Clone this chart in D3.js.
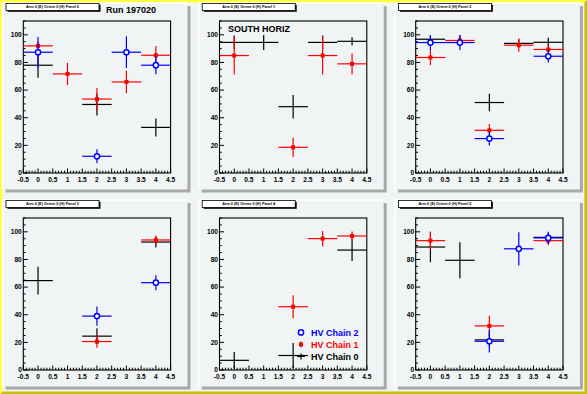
<!DOCTYPE html>
<html>
<head>
<meta charset="utf-8">
<script src="https://cdn.jsdelivr.net/npm/d3@7"></script>
<style>
  body { margin: 0; background: #f0f4f4; }
  svg { display: block; }
  text { font-family: "Liberation Sans", Arial, sans-serif; font-weight: bold; }
</style>
</head>
<body>
<svg id="chart"></svg>
<script>
// panel titles, bins and the three HV chains (null = no entry)
const panelTitles = [
  "Arm 0 (E) Orient 0 (H) Panel 0", "Arm 0 (E) Orient 0 (H) Panel 1", "Arm 0 (E) Orient 0 (H) Panel 2",
  "Arm 0 (E) Orient 0 (H) Panel 3", "Arm 0 (E) Orient 0 (H) Panel 4", "Arm 0 (E) Orient 0 (H) Panel 5"
];
const xBins = [0, 1, 2, 3, 4];
const xTickLabels = ["-0.5", "0", "0.5", "1", "1.5", "2", "2.5", "3", "3.5", "4", "4.5"];
const yTickLabels = ["0", "20", "40", "60", "80", "100"];

const chain0Y = [
  [78, null, 49.6, null, 33],
  [94.5, 94.5, 48, 94.5, 95.3],
  [96.8, null, 51, 93.8, 94.6],
  [64.7, null, 24.5, null, 92.6],
  [7, null, 10.5, null, 86.8],
  [89, 79.4, 21.8, null, 96]
];
const chain0Err = [
  [9, null, 8, null, 6.5],
  [5, 5.4, 8.5, 5, 3],
  [3, null, 6.3, 3, 3.2],
  [10, null, 5.7, null, 4],
  [6, null, 9, null, 8],
  [11, 13, 5, null, 3]
];
const chain1Y = [
  [92, 71.7, 53.5, 65.9, 85.2],
  [85, null, 18.6, 85, 79],
  [83.6, 95.9, 30.9, 92.5, 89.4],
  [null, null, 20.6, null, 94.1],
  [null, null, 45.8, 95.1, 97],
  [93.6, null, 31.9, null, 93.6]
];
const chain1Err = [
  [3, 8, 8, 8.2, 6.7],
  [13.7, null, 7, 13.7, 7.5],
  [5.5, 4, 4.5, 4.8, 3],
  [null, null, 4.5, null, 3],
  [null, null, 8.3, 5.5, 3.3],
  [6.5, null, 7.3, null, 3.3]
];
const chain2Y = [
  [87.4, null, 12.1, 87.4, 78],
  [null, null, null, null, null],
  [94.4, 94.4, 24.9, null, 84.5],
  [null, null, 39, null, 63.2],
  [null, null, null, null, null],
  [null, null, 20.8, 87.7, 95.6]
];
const chain2Err = [
  [11, null, 5, 11.5, 6.5],
  [null, null, null, null, null],
  [5.4, 5.4, 5, null, 4.6],
  [null, null, 7, null, 5.4],
  [null, null, null, null, null],
  [null, null, 8.2, 12, 4.4]
];
const legendNames = ["HV Chain 2", "HV Chain 1", "HV Chain 0"];

const W = 587, H = 394;
const padW = 185, padH = 186.5;
const padX = [2.5, 198.7, 394.9], padY = [3, 200];
const frame = { left: 20.8, top: 18, w: 147.3, h: 152 };

const svg = d3.select('#chart').attr('width', W).attr('height', H);

// canvas with bevelled yellow border
svg.append('rect').attr('width', W).attr('height', H).attr('fill', '#f0f4f4');
const b = 2.6;
svg.append('path').attr('fill', '#ffff3a')
  .attr('d', `M0,0H${W}L${W - b},${b}H${b}V${H - b}L0,${H}Z`);
svg.append('path').attr('fill', '#c2c200')
  .attr('d', `M${W},0V${H}H0L${b},${H - b}H${W - b}V${b}Z`);

const series = [
  { y: chain0Y, e: chain0Err, color: '#000000', marker: 'none' },
  { y: chain1Y, e: chain1Err, color: '#ff0000', marker: 'square' },
  { y: chain2Y, e: chain2Err, color: '#0000ff', marker: 'circle' }
];

function drawMarker(g, type, color, cx, cy) {
  if (type === 'square') {
    g.append('rect').attr('x', cx - 2).attr('y', cy - 2).attr('width', 4).attr('height', 4)
      .attr('fill', color);
  } else if (type === 'circle') {
    g.append('circle').attr('cx', cx).attr('cy', cy).attr('r', 2.6)
      .attr('fill', '#f6f8f8').attr('stroke', color).attr('stroke-width', 1.5);
  }
}

panelTitles.forEach((title, p) => {
  const px = padX[p % 3], py = padY[Math.floor(p / 3)];
  const pad = svg.append('g').attr('transform', `translate(${px},${py})`);

  // pad with shadow
  pad.append('rect').attr('x', 3).attr('y', 3).attr('width', padW).attr('height', padH).attr('fill', '#a8a8a8');
  pad.append('rect').attr('width', padW).attr('height', padH).attr('fill', '#f0f4f4');
  pad.append('path').attr('d', `M0,${padH}V0H${padW}`).attr('fill', 'none')
    .attr('stroke', '#ffffff').attr('stroke-width', 1.5);

  const x = d3.scaleLinear().domain([-0.5, 4.5]).range([frame.left, frame.left + frame.w]);
  const y = d3.scaleLinear().domain([0, 110]).range([frame.top + frame.h, frame.top]);

  // ticks
  const ticks = pad.append('g').attr('stroke', '#000').attr('stroke-width', 1);
  d3.range(-0.5, 4.501, 0.1).forEach((v, i) => {
    const len = i % 5 === 0 ? 4.5 : 2.3;
    ticks.append('line').attr('x1', x(v)).attr('x2', x(v))
      .attr('y1', y(0)).attr('y2', y(0) - len);
  });
  d3.range(0, 110.01, 5).forEach((v, i) => {
    const len = i % 4 === 0 ? 4.5 : 2.3;
    ticks.append('line').attr('x1', x(-0.5)).attr('x2', x(-0.5) + len)
      .attr('y1', y(v)).attr('y2', y(v));
  });

  pad.append('rect').attr('x', frame.left).attr('y', frame.top)
    .attr('width', frame.w).attr('height', frame.h)
    .attr('fill', 'none').attr('stroke', '#000').attr('stroke-width', 1.1);

  // tick labels
  pad.selectAll('.xl').data(xTickLabels).enter().append('text')
    .attr('x', d => x(+d)).attr('y', y(0) + 9.2)
    .attr('text-anchor', 'middle').attr('font-size', 6.6).text(d => d);
  pad.selectAll('.yl').data(yTickLabels).enter().append('text')
    .attr('x', x(-0.5) - 1.5).attr('y', d => y(+d) + 2.4)
    .attr('text-anchor', 'end').attr('font-size', 6.6).text(d => d);

  // error bars and markers
  const clip = v => Math.max(0, Math.min(110, v));
  series.forEach(s => {
    const g = pad.append('g');
    xBins.forEach((bin, i) => {
      const v = s.y[p][i];
      if (v === null) return;
      const err = s.e[p][i];
      g.append('line').attr('x1', x(bin - 0.5)).attr('x2', x(bin + 0.5))
        .attr('y1', y(v)).attr('y2', y(v)).attr('stroke', s.color).attr('stroke-width', 1.2);
      g.append('line').attr('x1', x(bin)).attr('x2', x(bin))
        .attr('y1', y(clip(v - err))).attr('y2', y(clip(v + err)))
        .attr('stroke', s.color).attr('stroke-width', 1.2);
      drawMarker(g, s.marker, s.color, x(bin), y(v));
    });
  });

  // title box
  pad.append('rect').attr('x', 5).attr('y', 1.8).attr('width', 93).attr('height', 7).attr('fill', '#000');
  pad.append('rect').attr('x', 3.5).attr('y', 0.5).attr('width', 93).attr('height', 7)
    .attr('fill', '#ffffff').attr('stroke', '#000').attr('stroke-width', 0.8);
  pad.append('text').attr('x', 50).attr('y', 5.4).attr('text-anchor', 'middle')
    .attr('font-size', 3.8).text(title);
});

// run number and panel label
svg.append('text').attr('x', 106).attr('y', 12.6).attr('font-size', 9).text('Run 197020');
svg.append('text').attr('x', 228).attr('y', 31.8).attr('font-size', 9).text('SOUTH HORIZ');

// legend in panel 4
const legColors = ['#0000ff', '#ff0000', '#000000'];
const legMarkers = ['circle', 'square', 'none'];
const leg = svg.append('g');
legendNames.forEach((name, i) => {
  const cy = 332.4 + i * 12;
  if (legMarkers[i] === 'none') {
    leg.append('line').attr('x1', 297).attr('x2', 305).attr('y1', cy).attr('y2', cy)
      .attr('stroke', '#000').attr('stroke-width', 1.2);
    leg.append('line').attr('x1', 301).attr('x2', 301).attr('y1', cy - 3).attr('y2', cy + 3)
      .attr('stroke', '#000').attr('stroke-width', 1.2);
  } else {
    if (legMarkers[i] === 'square') {
      leg.append('line').attr('x1', 301).attr('x2', 301).attr('y1', cy - 3).attr('y2', cy + 3)
        .attr('stroke', legColors[i]).attr('stroke-width', 1.2);
    }
    drawMarker(leg, legMarkers[i], legColors[i], 301, cy);
  }
  leg.append('text').attr('x', 311).attr('y', cy + 3.3).attr('font-size', 9)
    .attr('fill', legColors[i]).text(name);
});
</script>
</body>
</html>
